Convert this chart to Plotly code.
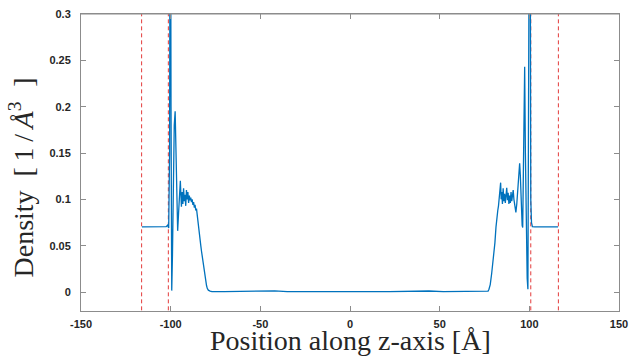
import plotly.graph_objects as go

# ---- data ----
left_x = [-116.0, -112.0, -108.0, -104.0, -102.5, -101.7, -101.1, -100.6, -100.2, -99.8, -99.4,
          -99.0, -98.5, -98.0, -97.5, -97.0, -96.5, -96.1, -95.6, -95.1, -94.6, -94.3, -94.0,
          -93.6, -93.2, -92.8, -92.4, -92.0, -91.6, -91.2, -90.8, -90.4, -90.0, -89.6, -89.2,
          -88.8, -88.4, -88.0, -87.6, -87.2, -86.8, -86.4, -86.0, -85.6, -85.2, -84.8, -84.4,
          -84.0, -83.6, -83.2, -82.8, -82.4, -82.0, -81.6, -81.2, -80.8, -80.4, -80.0, -79.6,
          -79.0, -78.0]
left_y = [0.0702, 0.0702, 0.0703, 0.0703, 0.0706, 0.0722, 0.0690, 0.1500, 0.6000, 0.2000, 0.0015,
          0.0400, 0.1200, 0.1800, 0.1950, 0.1400, 0.0750, 0.0660, 0.0850, 0.1050, 0.1200, 0.1050, 0.0920,
          0.1080, 0.0950, 0.1120, 0.0980, 0.1050, 0.0930, 0.1100, 0.1000, 0.1080, 0.0960, 0.1040, 0.0990,
          0.1020, 0.0970, 0.1000, 0.0940, 0.0970, 0.0910, 0.0940, 0.0880, 0.0900, 0.0820, 0.0780, 0.0720,
          0.0640, 0.0570, 0.0500, 0.0440, 0.0380, 0.0320, 0.0270, 0.0220, 0.0160, 0.0110, 0.0070, 0.0040,
          0.0020, 0.0010]

mid_x = [-77.0, -70.0, -62.0, -55.0, -48.0, -42.0, -35.0, -28.0, -20.0, -12.0, -5.0, 0.0,
         6.0, 14.0, 22.0, 30.0, 37.0, 44.0, 52.0, 60.0, 67.0, 72.0, 76.0]
mid_y = [0.0005, 0.0004, 0.0006, 0.0004, 0.0005, 0.0012, 0.0004, 0.0005, 0.0004, 0.0005, 0.0004, 0.0005,
         0.0004, 0.0005, 0.0004, 0.0006, 0.0004, 0.0011, 0.0004, 0.0005, 0.0004, 0.0006, 0.0008]

right_x = [77.0, 77.5, 78.2, 79.0, 79.6, 80.2, 80.8, 81.4, 81.9, 82.4, 82.8, 83.2, 83.6, 84.0,
           84.3, 84.6, 85.0, 85.4, 85.8, 86.2, 86.6, 87.0, 87.4, 87.8, 88.2, 88.6, 89.0, 89.4,
           89.8, 90.2, 90.6, 91.0, 91.4, 91.8, 92.2, 92.5, 93.0, 93.6, 94.1, 94.6, 95.0, 95.5,
           96.0, 96.3, 96.7, 97.1, 97.4, 97.8, 98.3, 98.8, 99.2, 99.8, 100.3, 100.8, 101.2,
           101.7, 103.0, 108.0, 112.0, 116.0]
right_y = [0.0010, 0.0030, 0.0080, 0.0200, 0.0300, 0.0420, 0.0530, 0.0700, 0.0820, 0.0880, 0.0930, 0.1000, 0.1080, 0.1180,
           0.1000, 0.1080, 0.0950, 0.1120, 0.0980, 0.1060, 0.0960, 0.1100, 0.1125, 0.0990, 0.1070, 0.0950, 0.1040, 0.0960,
           0.1080, 0.0980, 0.1060, 0.1100, 0.1000, 0.0940, 0.0900, 0.0860, 0.0950, 0.1150, 0.1300, 0.1390, 0.1250, 0.0900,
           0.0720, 0.0695, 0.1300, 0.2200, 0.2430, 0.1500, 0.0600, 0.0150, 0.0030, 0.3500, 0.6000, 0.1000, 0.0750,
           0.0705, 0.0702, 0.0702, 0.0702, 0.0702]

z_positions = left_x + mid_x + right_x
density = left_y + mid_y + right_y

boundary_lines = [-116.2, -101.3, 100.8, 116.2]

x_ticks = [-150, -100, -50, 0, 50, 100, 150]
x_tick_text = ["-150", "-100", "-50", "0", "50", "100", "150"]
y_ticks = [0, 0.05, 0.1, 0.15, 0.2, 0.25, 0.3]
y_tick_text = ["0", "0.05", "0.1", "0.15", "0.2", "0.25", "0.3"]

x_title = "Position along z-axis [Å]"
NB = "\u00a0"
TH = "\u2009"
y_title = ("Density" + NB + NB + "[" + TH + "1" + TH + "/" + TH
           + "<i>Å</i><sup>3" + NB + NB + NB + "</sup>]")

# ---- figure ----
fig = go.Figure()

for xb in boundary_lines:
    fig.add_trace(go.Scatter(x=[xb, xb], y=[-0.05, 0.35], mode="lines",
                             line=dict(color="#e33b3b", width=1, dash="4px,3px"),
                             hoverinfo="skip", showlegend=False))

fig.add_trace(go.Scatter(x=z_positions, y=density, mode="lines",
                         line=dict(color="#0072BD", width=1.3),
                         showlegend=False))

axis_common = dict(showgrid=False, zeroline=False, showline=True, linecolor="#8c8c8c",
                   linewidth=1, mirror="ticks", ticks="inside", ticklen=5,
                   tickcolor="#8c8c8c", automargin=False, ticklabeloverflow="allow",
                   tickfont=dict(family="Liberation Sans", size=11, color="#262626", weight="bold"))

fig.update_xaxes(range=[-150, 150], tickvals=x_ticks, ticktext=x_tick_text,
                 ticklabelstandoff=3, **axis_common)
fig.update_yaxes(range=[-0.0205, 0.30005], tickvals=y_ticks, ticktext=y_tick_text,
                 ticklabelstandoff=7, **axis_common)

# top edge of the axes box
fig.add_shape(type="line", xref="paper", yref="paper", x0=0, x1=1, y0=1, y1=1,
              line=dict(color="#8c8c8c", width=1), layer="above")

title_font = dict(family="Liberation Serif", size=28, color="#262626")
fig.add_annotation(text=x_title, xref="paper", yref="paper", x=0.5, y=0,
                   xanchor="center", yanchor="middle", yshift=-29,
                   showarrow=False, font=title_font)
fig.add_annotation(text=y_title, xref="paper", yref="paper", x=0, y=0.5,
                   xanchor="center", yanchor="middle", xshift=-59, yshift=-15,
                   textangle=-90, showarrow=False, font=title_font)

fig.update_layout(width=632, height=357,
                  margin=dict(l=81, r=13, t=14, b=46),
                  paper_bgcolor="white", plot_bgcolor="white")

# remove the default 8px page margin so the figure fills the 632x357 window exactly
fig.write_html("out.html", config={"displayModeBar": False},
               post_script="document.body.style.margin='0';")
